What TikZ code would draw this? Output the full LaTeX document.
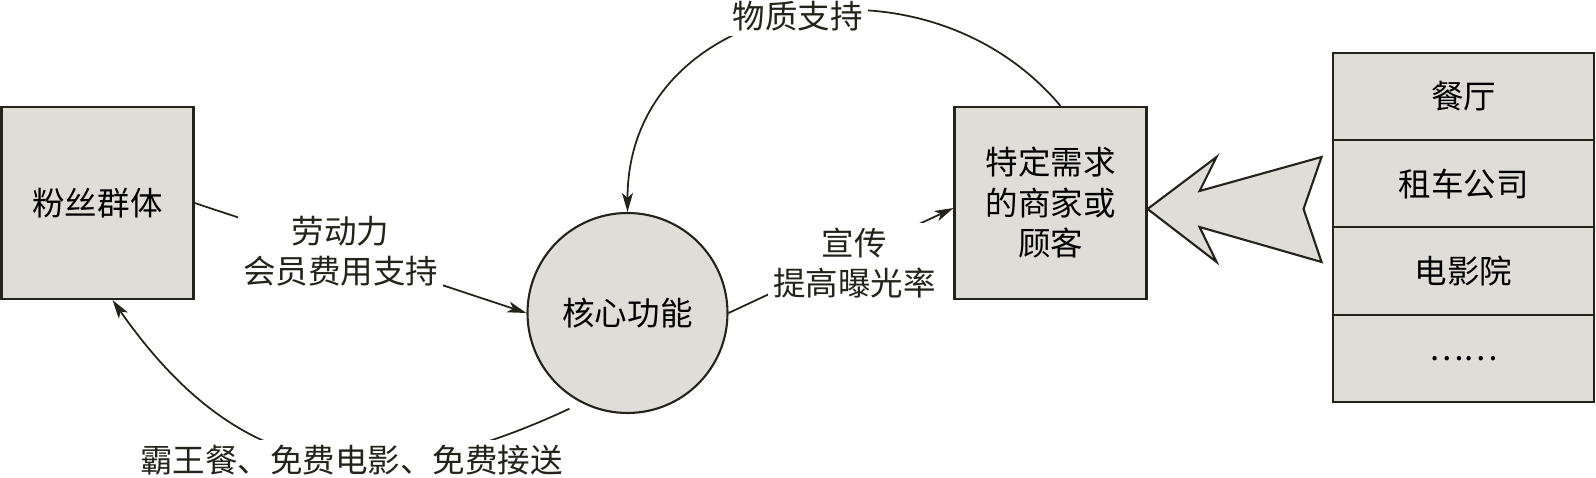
\documentclass[tikz,border=0pt]{standalone}
\usepackage{fontspec}
\newfontfamily\cjk{Noto Sans CJK SC}
\usepackage{tikz}
\usetikzlibrary{arrows.meta, positioning}
\definecolor{boxgray}{RGB}{222,221,216}
\definecolor{ink}{RGB}{35,35,28}

\begin{document}
\begin{tikzpicture}[
          block/.style={
              draw=ink,
              fill=boxgray,
              line width=1.2pt,
              minimum width=3.84cm,
              minimum height=3.84cm,
              inner sep=0pt,
              font=\cjk\fontsize{18.5}{23}\selectfont,
              align=center
            },
          hub/.style={
              circle,
              draw=ink,
              fill=boxgray,
              line width=1.2pt,
              minimum size=4cm,
              inner sep=0pt,
              font=\cjk\fontsize{18.5}{23}\selectfont
            },
          cell/.style={
              draw=ink,
              fill=boxgray,
              line width=1.2pt,
              minimum width=5.22cm,
              minimum height=1.745cm,
              inner sep=0pt,
              outer sep=0pt,
              font=\cjk\fontsize{18.5}{23}\selectfont
            },
          tag/.style={fill=white, inner sep=3pt, align=center, font=\cjk\fontsize{18.5}{23}\selectfont},
          arr/.style={-{Stealth[length=3.8mm, width=2.2mm, inset=1mm]}, ink, line width=1pt},
          bigarr/.style={draw=ink, fill=boxgray, line width=1.2pt, line join=miter}
        ]
        \useasboundingbox (0,0) rectangle (31.92,9.56);

        \node[block] (fans) at (1.95,5.50) {粉丝群体};
        \node[hub] (core) at (12.55,3.30) {核心功能};
        \node[block] (merchant) at (21.01,5.50) {特定需求\\的商家或\\顾客};

        \node[cell] (restaurant) at (29.27,7.63) {餐厅};
        \node[cell, below=0pt of restaurant] (carrental) {租车公司};
        \node[cell, below=0pt of carrental] (cinema) {电影院};
        \node[cell, below=0pt of cinema] (more) {……};

        \draw[arr] (fans.east) -- node[tag, pos=0.44] {劳动力\\会员费用支持} (core.west);
        \draw[arr] (core.east) -- node[tag, pos=0.56, yshift=-1.8mm] {宣传\\提高曝光率} ([yshift=-1mm]merchant.west);
        \draw[arr] ([xshift=2mm]merchant.north) to[out=130, in=90, looseness=1.23] node[tag, pos=0.49] {物质支持} (core.north);
        \draw[arr, shorten <=2.7mm] (core.243) to[out=205, in=-55, looseness=1.2] node[tag, pos=0.43] {霸王餐、免费电影、免费接送} ([xshift=3mm]fans.south);

        \coordinate (bigtip) at ([yshift=-1.2mm]merchant.east);
        \draw[bigarr, shift={(bigtip)}] (0,0) -- (1.38,1.04) -- (1.04,0.36) -- (3.48,1.04)
          -- (3.12,0) -- (3.48,-1.06) -- (1.04,-0.36) -- (1.38,-1.06) -- cycle;
      \end{tikzpicture}
\end{document}
